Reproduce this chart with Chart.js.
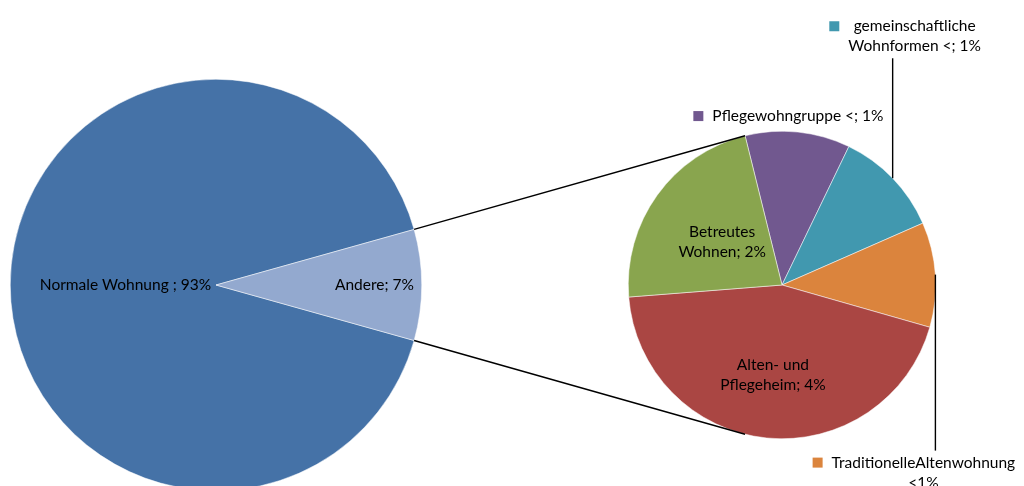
<!DOCTYPE html>
<html>
<head>
<meta charset="utf-8">
<script src="https://cdn.jsdelivr.net/npm/chart.js@4.4.0/dist/chart.umd.min.js"></script>
<style>
  html, body { margin: 0; padding: 0; background: #fff; overflow: hidden; }
  #wrap { position: relative; width: 1024px; height: 486px; overflow: hidden; }
  #wrap canvas { position: absolute; left: 0; top: 0; }
</style>
</head>
<body>
<div id="wrap">
  <canvas id="mainPie" width="1024" height="500"></canvas>
  <canvas id="subPie" width="1024" height="500"></canvas>
</div>
<script>
// main pie
const mainLabels = ['Normale Wohnung', 'Andere'];
const mainValues = [91.3, 8.7];
const mainText = [['Normale Wohnung ; 93%'], ['Andere; 7%']];

// second pie (breakdown of "Andere"), clockwise from top
const subLabels = ['Pflegewohngruppe', 'gemeinschaftliche Wohnformen', 'TraditionelleAltenwohnung', 'Alten- und Pflegeheim', 'Betreutes Wohnen'];
const subValues = [0.96, 0.98, 0.96, 3.86, 1.95];
const subText = [
  ['Pflegewohngruppe <; 1%'],
  ['gemeinschaftliche', 'Wohnformen <; 1%'],
  ['TraditionelleAltenwohnung', '<1%'],
  ['Alten- und', 'Pflegeheim; 4%'],
  ['Betreutes', 'Wohnen; 2%']
];

const FONT = '15.5px Lato, "Noto Sans", sans-serif';

// draws data labels: inside labels at a fraction of the radius, or callouts with a colour square
const sliceLabels = {
  id: 'sliceLabels',
  afterDatasetsDraw(chart, args, opts) {
    const ctx = chart.ctx;
    const arcs = chart.getDatasetMeta(0).data;
    const lh = opts.lineHeight;
    ctx.save();
    ctx.font = FONT;
    ctx.textBaseline = 'middle';
    ctx.textAlign = 'center';
    opts.texts.forEach((lines, i) => {
      const a = arcs[i];
      const p = opts.place[i];
      const mid = (a.startAngle + a.endAngle) / 2;
      if (p.frac !== undefined) {
        const r = a.outerRadius * p.frac;
        const cx = a.x + Math.cos(mid) * r;
        const cy = a.y + Math.sin(mid) * r;
        ctx.fillStyle = '#000';
        lines.forEach((t, k) => ctx.fillText(t, cx, cy + (k - (lines.length - 1) / 2) * lh));
        return;
      }
      const ex = a.x + Math.cos(mid) * a.outerRadius;
      const ey = a.y + Math.sin(mid) * a.outerRadius;
      if (p.leader) {
        ctx.strokeStyle = '#000';
        ctx.lineWidth = 1.4;
        ctx.beginPath();
        ctx.moveTo(ex, ey);
        ctx.lineTo(ex, ey + p.leader);
        ctx.stroke();
      }
      const tx = ex + p.dx;
      const ty = ey + p.dy;
      ctx.fillStyle = '#000';
      lines.forEach((t, k) => ctx.fillText(t, tx, ty + k * lh));
      const w = Math.max(...lines.map(t => ctx.measureText(t).width));
      ctx.fillStyle = a.options.backgroundColor;
      ctx.fillRect(tx - w / 2 - 9 - 10, ty - 5, 10, 10);
    });
    ctx.restore();
  }
};

// connector lines from the "Andere" slice to the second pie
const connectors = {
  id: 'connectors',
  afterDraw(chart) {
    const big = mainChart.getDatasetMeta(0).data[1];
    const small = chart.getDatasetMeta(0).data[0];
    const ctx = chart.ctx;
    const pt = (arc, ang) => [arc.x + Math.cos(ang) * arc.outerRadius, arc.y + Math.sin(ang) * arc.outerRadius];
    const a1 = pt(big, big.startAngle), a2 = pt(big, big.endAngle);
    const b1 = pt(small, small.startAngle), b2 = pt(small, -small.startAngle);
    ctx.save();
    ctx.strokeStyle = '#000';
    ctx.lineWidth = 1.4;
    ctx.beginPath();
    ctx.moveTo(a1[0], a1[1]); ctx.lineTo(b1[0], b1[1]);
    ctx.moveTo(a2[0], a2[1]); ctx.lineTo(b2[0], b2[1]);
    ctx.stroke();
    ctx.restore();
  }
};

const mainChart = new Chart(document.getElementById('mainPie'), {
  type: 'pie',
  data: {
    labels: mainLabels,
    datasets: [{
      data: mainValues,
      backgroundColor: ['#4572A7', '#93A9CF'],
      borderColor: '#ffffff',
      borderWidth: 0.5
    }]
  },
  options: {
    responsive: false,
    animation: false,
    rotation: 105.65,
    layout: { padding: { left: 10, right: 602, top: 79, bottom: 9 } },
    plugins: {
      legend: { display: false },
      tooltip: { enabled: false },
      sliceLabels: {
        texts: mainText,
        lineHeight: 20,
        place: [{ frac: 0.44 }, { frac: 0.77 }]
      }
    }
  },
  plugins: [sliceLabels]
});

new Chart(document.getElementById('subPie'), {
  type: 'pie',
  data: {
    labels: subLabels,
    datasets: [{
      data: subValues,
      backgroundColor: ['#71588F', '#4198AF', '#DB843D', '#AA4643', '#89A54E'],
      borderColor: '#ffffff',
      borderWidth: 0.5
    }]
  },
  options: {
    responsive: false,
    animation: false,
    rotation: -13.9,
    layout: { padding: { left: 628, right: 88, top: 131, bottom: 61 } },
    plugins: {
      legend: { display: false },
      tooltip: { enabled: false },
      sliceLabels: {
        texts: subText,
        lineHeight: 20,
        place: [
          { dx: 0, dy: -16 },
          { dx: 22, dy: -152, leader: -120 },
          { dx: -12, dy: 188, leader: 176 },
          { frac: 0.59 },
          { frac: 0.48 }
        ]
      }
    }
  },
  plugins: [sliceLabels, connectors]
});
</script>
</body>
</html>
